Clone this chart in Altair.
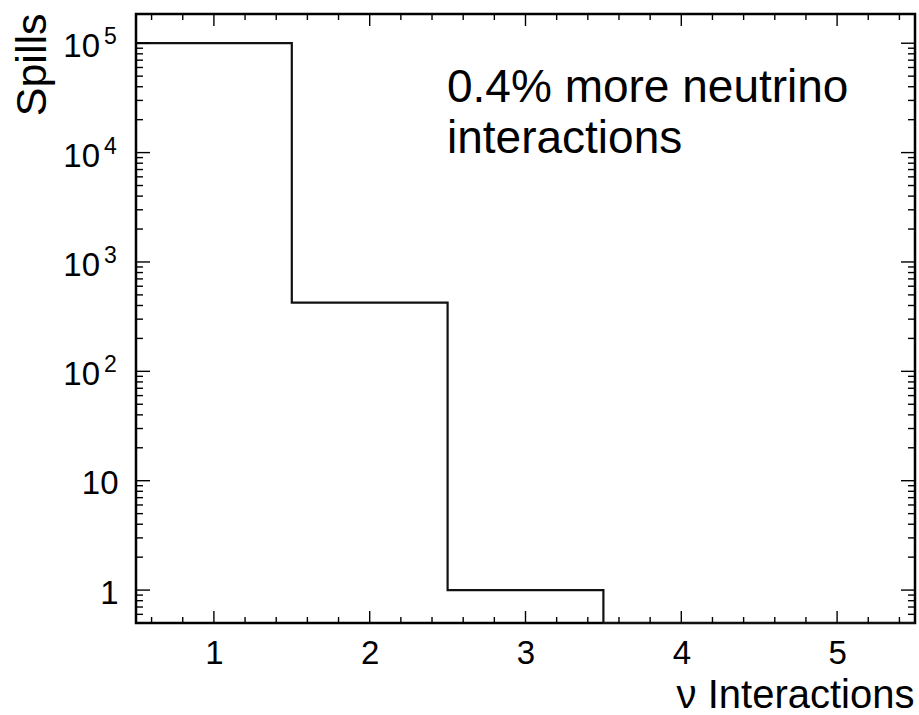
import altair as alt
import pandas as pd

# ---- data ----
bin_centers = [1, 2, 3, 4, 5]
spills = [100000, 424, 1, 0, 0]

x_domain = [0.5, 5.5]
y_domain = [0.5, 1.85e5]

x_major = [1, 2, 3, 4, 5]
x_minor = [0.6, 0.8, 1.2, 1.4, 1.6, 1.8, 2.2, 2.4, 2.6, 2.8,
           3.2, 3.4, 3.6, 3.8, 4.2, 4.4, 4.6, 4.8, 5.2, 5.4]
y_major = [1, 10, 100, 1000, 10000, 100000]
y_label_base = ["1", "10", "10", "10", "10", "10"]
y_label_exp = ["", "", "2", "3", "4", "5"]
y_minor = [m * 10.0 ** k for k in range(-1, 5) for m in range(2, 10) if m * 10.0 ** k >= 0.6]

annotation = ["0.4% more neutrino", "interactions"]

W, H = 779, 609
FONT = "Liberation Sans"
LBL = 33

# step outline: left edges of every bin plus the final right edge
edges = [c - 0.5 for c in bin_centers] + [bin_centers[-1] + 0.5]
values = spills + [spills[-1]]
step_df = pd.DataFrame({"edge": edges, "spills": values})
label_df = pd.DataFrame({"v": y_major, "base": y_label_base, "exp": y_label_exp})

xscale = alt.Scale(domain=x_domain, nice=False, zero=False)
yscale = alt.Scale(type="log", domain=y_domain, nice=False)

plain = [(v, b) for v, b, e in zip(y_major, y_label_base, y_label_exp) if e == ""]
label_expr = " : ".join(f"datum.value == {v} ? '{b}'" for v, b in plain) + " : ''"

hist = alt.Chart(step_df).transform_calculate(
    shown=f"max(datum.spills, {y_domain[0]})"
).mark_line(interpolate="step-after", color="#111111", strokeWidth=2.2).encode(
    x=alt.X("edge:Q", scale=xscale,
            axis=alt.Axis(values=x_major, format="d", ticks=False, tickSize=0,
                          domain=False, grid=False, labelPadding=14,
                          title="ν Interactions", titleFontSize=40,
                          titleFontWeight="normal", titleFont=FONT, titleColor="black",
                          titleAlign="right", titleAnchor="end", titleBaseline="alphabetic",
                          titleX=W - 1, titleY=84)),
    y=alt.Y("shown:Q", scale=yscale,
            axis=alt.Axis(values=y_major, labelExpr=label_expr, ticks=False, tickSize=0,
                          domain=False, grid=False, labelPadding=18, labelBaseline="middle",
                          labelOffset=3,
                          title="Spills", titleFontSize=43, titleFontWeight="normal",
                          titleFont=FONT, titleColor="black", titleAngle=270,
                          titleAlign="right", titleBaseline="alphabetic",
                          titleX=-91, titleY=-1)),
)

def yticks(vals, length, right=False):
    df = pd.DataFrame({"v": vals})
    if right:
        xe = dict(x=alt.value(W), x2=alt.value(W - length))
    else:
        xe = dict(x=alt.value(0), x2=alt.value(length))
    return alt.Chart(df).mark_rule(color="black", strokeWidth=1.4).encode(
        y=alt.Y("v:Q", scale=yscale, axis=None), **xe)

def xticks(vals, length, top=False):
    df = pd.DataFrame({"v": vals})
    if top:
        ye = dict(y=alt.value(0), y2=alt.value(length))
    else:
        ye = dict(y=alt.value(H), y2=alt.value(H - length))
    return alt.Chart(df).mark_rule(color="black", strokeWidth=1.4).encode(
        x=alt.X("v:Q", scale=xscale, axis=None), **ye)

ticks = [
    yticks(y_major, 14), yticks(y_minor, 7),
    yticks(y_major, 14, right=True), yticks(y_minor, 7, right=True),
    xticks(x_major, 12), xticks(x_minor, 6),
    xticks(x_major, 12, top=True), xticks(x_minor, 6, top=True),
]

# power-of-ten labels: "10" plus a raised exponent
pow_base = alt.Chart(label_df).transform_filter("datum.exp != ''").mark_text(
    align="right", baseline="middle", fontSize=LBL, font=FONT, color="black", dy=4
).encode(y=alt.Y("v:Q", scale=yscale, axis=None), x=alt.value(-36), text="base:N")

pow_exp = alt.Chart(label_df).transform_filter("datum.exp != ''").mark_text(
    align="left", baseline="middle", fontSize=23, font=FONT, color="black", dy=-6
).encode(y=alt.Y("v:Q", scale=yscale, axis=None), x=alt.value(-32), text="exp:N")

note = alt.Chart(pd.DataFrame({"t": [annotation]})).mark_text(
    align="left", baseline="alphabetic", fontSize=46, lineHeight=51,
    font=FONT, color="black"
).encode(x=alt.value(311), y=alt.value(88), text="t")

chart = alt.layer(hist, *ticks, pow_base, pow_exp, note).resolve_axis(
    x="independent", y="independent"
).properties(
    width=W, height=H,
    autosize=alt.AutoSizeParams(type="none"),
    padding={"left": 136, "top": 14, "right": 4, "bottom": 92},
    background="white",
).configure_view(
    stroke="black", strokeWidth=2.5
).configure_axis(
    labelFont=FONT, labelFontSize=LBL, labelColor="black"
)

chart.save("out.html", embed_options={"renderer": "svg", "actions": False})
